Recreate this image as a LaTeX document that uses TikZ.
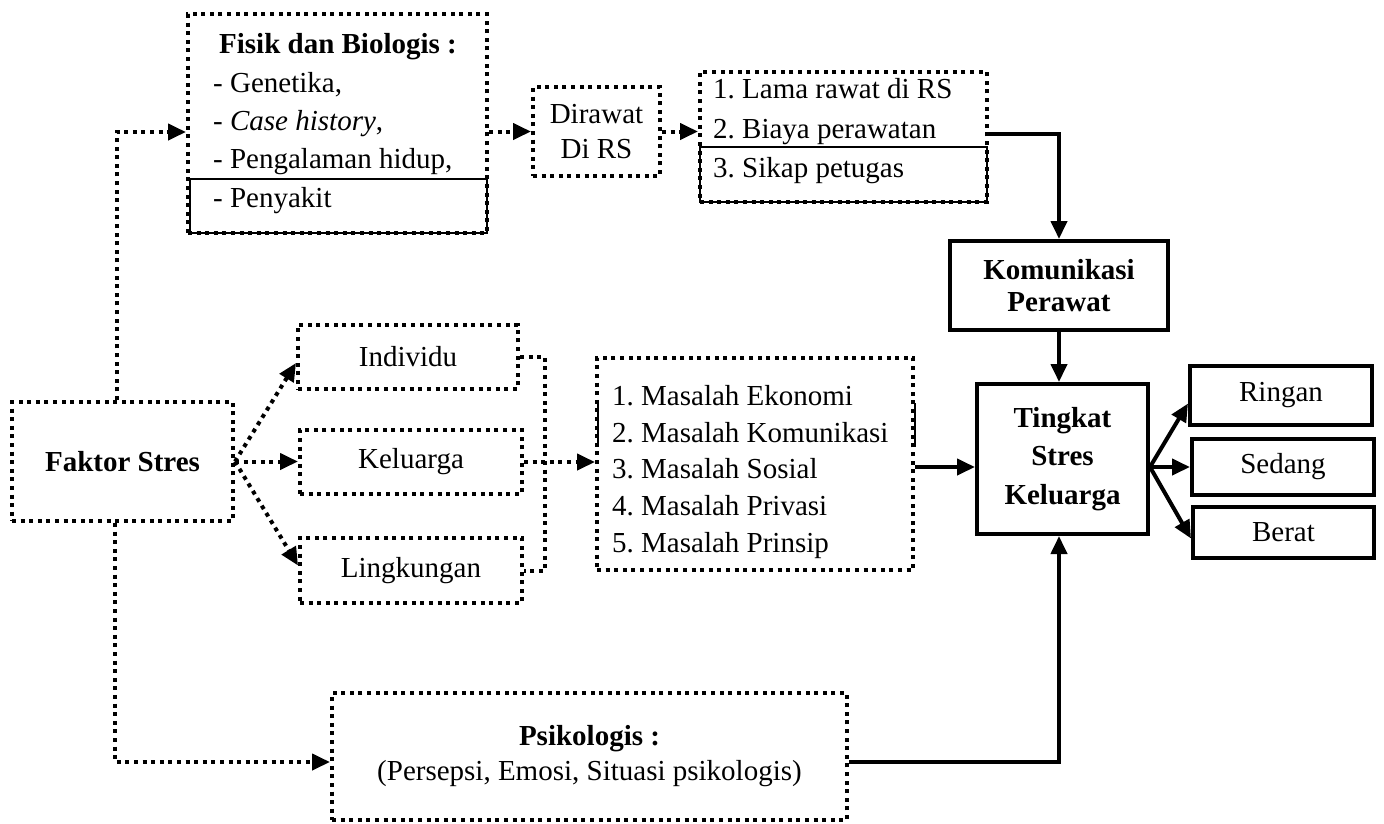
\documentclass[tikz,border=0pt]{standalone}
\usepackage{fontspec}
\setmainfont{Liberation Serif}
\usetikzlibrary{arrows.meta}
\frenchspacing
\tikzset{
  txt/.style={inner sep=0pt, font=\fontsize{29}{36}\selectfont},
  dotbox/.style={draw, line width=4pt, dash pattern=on 4pt off 4.6pt, inner sep=0pt, align=center, font=\fontsize{29}{36}\selectfont},
  solbox/.style={draw, line width=4pt, inner sep=0pt, align=center, font=\fontsize{29}{36}\selectfont},
  dotarrow/.style={line width=4pt, dash pattern=on 4pt off 4.6pt, -{Triangle[length=18pt,width=16pt]}},
  dotline/.style={line width=4pt, dash pattern=on 4pt off 4.6pt},
  solarrow/.style={line width=4pt, -{Triangle[length=18pt,width=16pt]}},
  thinline/.style={line width=1.4pt}
}
\begin{document}
\begin{tikzpicture}[x=1pt,y=-1pt]
\useasboundingbox (0,0) rectangle (1384,823);

% boxes
\node[dotbox, minimum width=299pt, minimum height=219pt] (fisik) at (337.5,123.5) {};
\node[dotbox, minimum width=127pt, minimum height=89pt, font=\fontsize{29}{35}\selectfont] (dirawat) at (596.5,131.5) {Dirawat\\Di RS};
\node[dotbox, minimum width=287pt, minimum height=130pt] (rawat) at (843.5,137) {};
\node[solbox, minimum width=218pt, minimum height=89pt, font=\fontsize{29}{32}\selectfont\bfseries] (kom) at (1059,285.5) {Komunikasi\\Perawat};
\node[solbox, minimum width=171pt, minimum height=150pt, font=\fontsize{29}{38.5}\selectfont\bfseries] (tingkat) at (1062.5,459) {Tingkat\\Stres\\Keluarga};
\node[solbox, minimum width=182pt, minimum height=59pt] (ringan) at (1281,395.5) {Ringan};
\node[solbox, minimum width=182pt, minimum height=56pt] (sedang) at (1283,467) {Sedang};
\node[solbox, minimum width=181pt, minimum height=51pt] (berat) at (1283.5,532.5) {Berat};
\node[dotbox, minimum width=221pt, minimum height=119pt, font=\fontsize{29}{36}\selectfont\bfseries] (faktor) at (122.5,461.5) {Faktor Stres};
\node[dotbox, minimum width=220pt, minimum height=64pt] (individu) at (408,357) {Individu};
\node[dotbox, minimum width=222pt, minimum height=64pt] (keluarga) at (411,462) {Keluarga};
\node[dotbox, minimum width=222pt, minimum height=65pt] (lingk) at (411,570.5) {Lingkungan};
\node[dotbox, minimum width=316pt, minimum height=212pt] (masalah) at (755,464) {};
\node[dotbox, minimum width=515pt, minimum height=127pt, font=\fontsize{29}{35}\selectfont] (psiko) at (589.5,756.5) {\textbf{Psikologis :}\\(Persepsi, Emosi, Situasi psikologis)};

% texts inside list boxes
\node[txt, anchor=base, font=\fontsize{29}{36}\selectfont\bfseries] (fisikT) at (338,53) {Fisik dan Biologis :};
\node[txt, anchor=base west] (f1) at (213,92) {- Genetika,};
\node[txt, anchor=base west] (f2) at (213,130) {- \textit{Case history},};
\node[txt, anchor=base west] (f3) at (213,168) {- Pengalaman hidup,};
\node[txt, anchor=base west] (f4) at (213,207) {- Penyakit};

\node[txt, anchor=base west] (r1) at (713,98) {1. Lama rawat di RS};
\node[txt, anchor=base west] (r2) at (713,138) {2. Biaya perawatan};
\node[txt, anchor=base west] (r3) at (713,177) {3. Sikap petugas};

\node[txt, anchor=base west] (m1) at (612,405) {1. Masalah Ekonomi};
\node[txt, anchor=base west] (m2) at (612,442) {2. Masalah Komunikasi};
\node[txt, anchor=base west] (m3) at (612,478) {3. Masalah Sosial};
\node[txt, anchor=base west] (m4) at (612,515) {4. Masalah Privasi};
\node[txt, anchor=base west] (m5) at (612,552) {5. Masalah Prinsip};

% thin artifact lines
\draw[thinline] (190,179) rectangle (487,233);
\draw[thinline] (700,147) rectangle (987,202);
\draw[thinline] (598,400) -- (598,447);
\draw[thinline] (915,403) -- (915,447);

% helper coordinates
\coordinate (c1) at (117,132);
\coordinate (c2) at (115,762);
\coordinate (t0) at (1150,467);

% connectors
\draw[dotarrow] (faktor.north -| c1) -- (c1) -- (c1 -| fisik.west);
\draw[dotarrow] (fisik.east |- dirawat.west) -- (dirawat.west);
\draw[dotarrow] (dirawat.east) -- (dirawat.east -| rawat.west);
\draw[solarrow] ([yshift=3pt]rawat.east) -| (kom.north);
\draw[solarrow] (kom.south) -- (kom.south |- tingkat.north);
\draw[dotarrow] (faktor.south -| c2) -- (c2) -- (c2 -| psiko.west);
\draw[solarrow] ([yshift=-5pt]psiko.east) -| (kom.south |- tingkat.south);
\draw[dotarrow] (faktor.east) -- ([yshift=-6pt]individu.west);
\draw[dotarrow] (faktor.east) -- (faktor.east -| keluarga.west);
\draw[dotarrow] (faktor.east) -- ([yshift=5pt]lingk.west);
\draw[dotline] (individu.east) -- ++(25,0) |- (lingk.east);
\draw[dotarrow] (keluarga.east) -- (keluarga.east -| masalah.west);
\draw[solarrow] (masalah.east |- t0) -- (tingkat.west |- t0);
\draw[solarrow] (t0) -- ([yshift=-8pt]ringan.west);
\draw[solarrow] (t0) -- (t0 -| sedang.west);
\draw[solarrow] (t0) -- ([yshift=-6pt]berat.west);
\end{tikzpicture}
\end{document}
